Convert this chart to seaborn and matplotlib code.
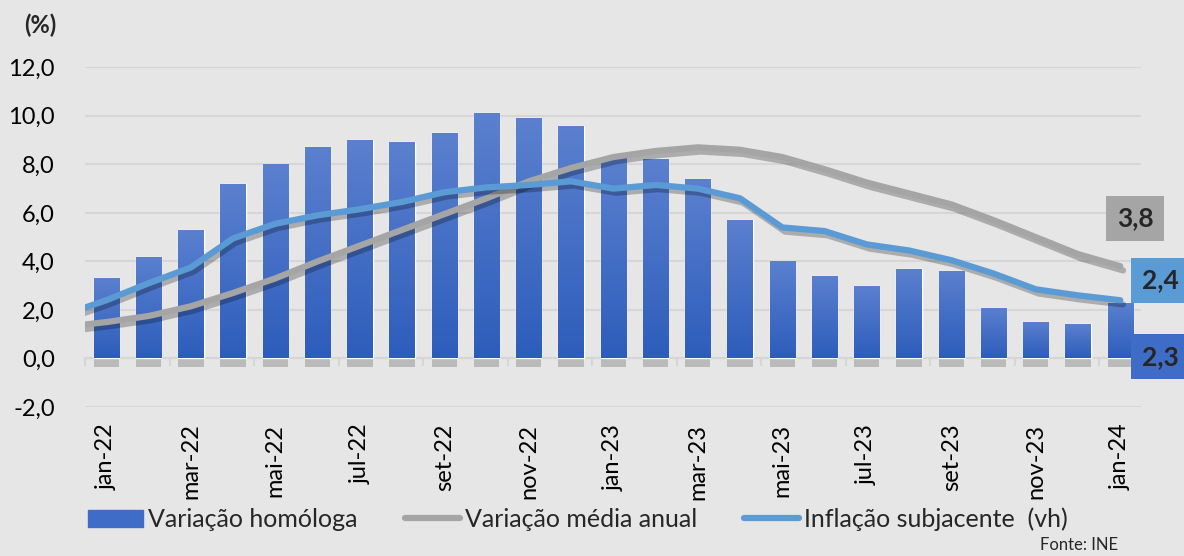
import numpy as np
import matplotlib
matplotlib.use("Agg")
import matplotlib.pyplot as plt
import matplotlib.patheffects as pe
from matplotlib.patches import Patch
from matplotlib.lines import Line2D
import seaborn as sns

# Data
months = ["jan-22", "fev-22", "mar-22", "abr-22", "mai-22", "jun-22", "jul-22", "ago-22",
          "set-22", "out-22", "nov-22", "dez-22", "jan-23", "fev-23", "mar-23", "abr-23",
          "mai-23", "jun-23", "jul-23", "ago-23", "set-23", "out-23", "nov-23", "dez-23", "jan-24"]
homologa = [3.3, 4.2, 5.3, 7.2, 8.0, 8.7, 9.0, 8.9, 9.3, 10.1, 9.9, 9.6,
            8.3, 8.2, 7.4, 5.7, 4.0, 3.4, 3.0, 3.7, 3.6, 2.1, 1.5, 1.4, 2.3]
# lines start one month earlier (dez-21), clipped at the left edge
line_months = ["dez-21"] + months
media_anual = [1.3, 1.5, 1.75, 2.15, 2.7, 3.3, 4.0, 4.65, 5.3, 5.95, 6.6, 7.3, 7.85,
               8.3, 8.55, 8.7, 8.6, 8.3, 7.8, 7.25, 6.8, 6.35, 5.7, 5.0, 4.3, 3.8]
subjacente = [1.8, 2.4, 3.1, 3.75, 4.95, 5.55, 5.9, 6.15, 6.45, 6.85, 7.05, 7.15, 7.3,
              7.0, 7.15, 7.0, 6.6, 5.4, 5.25, 4.7, 4.45, 4.05, 3.5, 2.85, 2.6, 2.4]

BG = "#e6e6e6"
GRID = "#d6d6d6"
BAR = "#3f6cc6"
GRAY = "#a5a5a5"
LBLUE = "#5b9bd5"

sns.set_style("white")
plt.rcParams["font.family"] = ["Lato", "DejaVu Sans"]

fig = plt.figure(figsize=(11.84, 5.56), dpi=100, facecolor=BG)
ax = fig.add_axes([0.072, 0.268, 0.892, 0.611], facecolor=BG)

sns.barplot(x=months, y=homologa, ax=ax, color=BAR, width=0.6, saturation=1, zorder=2)

# gradient fill + soft shadow below the bars
grad = np.linspace(0, 1, 100).reshape(-1, 1)
cmap = matplotlib.colors.LinearSegmentedColormap.from_list("g", ["#5b80cf", "#2d5dbb"])
for p in ax.patches:
    p.set_path_effects([pe.SimplePatchShadow(offset=(0, -6), alpha=0.3, shadow_rgbFace="#555555"),
                        pe.Normal()])
    x0, y0 = p.get_x(), p.get_y()
    w, h = p.get_width(), p.get_height()
    im = ax.imshow(grad, cmap=cmap, aspect="auto", extent=(x0, x0 + w, y0, y0 + h),
                   origin="upper", zorder=2.5)
    im.set_clip_path(p)

xl = np.arange(len(line_months)) - 1
shadow = [pe.SimpleLineShadow(offset=(2, -3), alpha=0.25), pe.Normal()]
sns.lineplot(x=xl, y=media_anual, ax=ax, color=GRAY, lw=4.5, zorder=4,
             path_effects=shadow, solid_capstyle="round")
sns.lineplot(x=xl, y=subjacente, ax=ax, color=LBLUE, lw=4.5, zorder=5,
             path_effects=shadow, solid_capstyle="round")

ax.set_xlim(-0.5, len(months) - 0.5)
ax.set_ylim(-2, 12)
ax.set_yticks(np.arange(-2, 13, 2))
ax.set_yticklabels([f"{v:.1f}".replace(".", ",") for v in np.arange(-2, 13, 2)], fontsize=17)
ax.set_xticks(range(0, len(months), 2))
ax.set_xticklabels(months[::2], rotation=90, fontsize=17)
ax.tick_params(axis="y", length=0, pad=22, colors="black")
ax.tick_params(axis="x", length=0, pad=12, colors="black")
ax.grid(axis="y", color=GRID, lw=1.5, zorder=0)
ax.set_axisbelow(True)
for s in ax.spines.values():
    s.set_visible(False)
ax.set_xlabel("")
ax.set_ylabel("")

# zero line with category tick marks
sec = ax.secondary_xaxis(2 / 14)
sec.set_xticks(np.arange(-0.5, len(months), 2))
sec.set_xticklabels([])
sec.tick_params(axis="x", length=6, width=1.5, color=GRID, direction="out")
sec.spines["bottom"].set_color(GRID)
sec.spines["bottom"].set_linewidth(1.5)

# end labels
last = len(months) - 1
def fmt(v):
    return f"{v:.1f}".replace(".", ",")
lab = dict(textcoords="offset pixels", ha="center", va="center", fontsize=19,
           fontweight="bold", annotation_clip=False)
ax.annotate(fmt(media_anual[-1]), (last, media_anual[-1]), xytext=(15, 48),
            bbox=dict(boxstyle="square,pad=0.4", fc=GRAY, ec="none"), **lab)
ax.annotate(fmt(subjacente[-1]), (last, subjacente[-1]), xytext=(40, 20),
            bbox=dict(boxstyle="square,pad=0.4", fc=LBLUE, ec="none"), **lab)
ax.annotate(fmt(homologa[-1]), (last, homologa[-1]), xytext=(40, -54),
            bbox=dict(boxstyle="square,pad=0.4", fc=BAR, ec="none"), **lab)

fig.text(0.034, 0.955, "(%)", fontsize=17, fontweight="bold", ha="center", va="center")

handles = [Patch(color=BAR),
           Line2D([], [], color=GRAY, lw=4.5, solid_capstyle="round"),
           Line2D([], [], color=LBLUE, lw=4.5, solid_capstyle="round")]
labels = ["Variação homóloga", "Variação média anual", "Inflação subjacente  (vh)"]
fig.legend(handles, labels, loc="center left", bbox_to_anchor=(0.074, 0.066), ncol=3,
           frameon=False, fontsize=18, handlelength=2.2, handletextpad=0.2,
           columnspacing=1.9, borderaxespad=0, borderpad=0)
fig.text(0.911, 0.02, "Fonte: INE", fontsize=12, ha="center", va="center")

fig.savefig("out.png", dpi=100, facecolor=BG)
